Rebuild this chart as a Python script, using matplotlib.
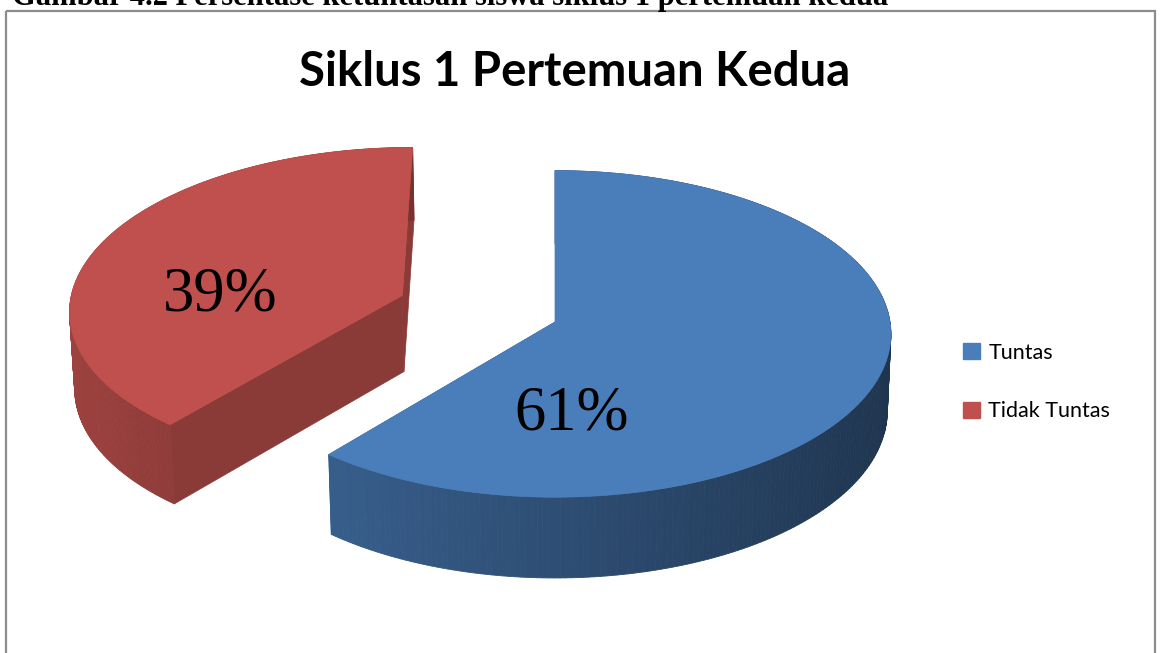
import numpy as np
import matplotlib
matplotlib.use('Agg')
import matplotlib.pyplot as plt
import matplotlib.colors as mcolors
from matplotlib.patches import Polygon, Patch, Rectangle

# data
categories = ['Tuntas', 'Tidak Tuntas']
values = [61, 39]
pct_labels = ['61%', '39%']
title = 'Siklus 1 Pertemuan Kedua'
caption = 'Gambar 4.2 Persentase ketuntasan siswa siklus 1 pertemuan kedua'

# style
colors = ['#4a7ebb', '#c0504d']
explode = [0.0, 0.49]
label_ang = [-85, 180]
label_r = 0.55

# fake 3d camera (pixel space)
tilt = np.radians(29)
sa, ca = np.sin(tilt), np.cos(tilt)
D = 12.0
F = 4020.0
cx, cy = 555.0, 322.0
h = 0.265


def proj(X, Z, Yh=0.0):
    yc = Z * sa + Yh * ca
    d = D + Z * ca - Yh * sa
    return cx + F * X / d, cy - F * yc / d


def shade(c, f):
    r, g, b = mcolors.to_rgb(c)
    return (r * f, g * f, b * f)


fig = plt.figure(figsize=(11.6, 6.53), dpi=100)
ax = fig.add_axes([0, 0, 1, 1])
ax.set_xlim(0, 1160)
ax.set_ylim(653, 0)
ax.axis('off')

# chart frame + cut caption line
ax.add_patch(Rectangle((6, 11), 1149, 660, fill=False, ec='#8c8c8c', lw=1.6))
ax.text(12, 5, caption, fontsize=22, fontweight='bold', family='Liberation Serif',
        ha='left', va='baseline', color='black')

fracs = np.array(values, dtype=float) / sum(values)
bounds = 90 - 360 * np.concatenate([[0], np.cumsum(fracs)])

for i in [1, 0]:
    t0, t1 = bounds[i], bounds[i + 1]
    mid = np.radians((t0 + t1) / 2)
    ox, oz = explode[i] * np.cos(mid), explode[i] * np.sin(mid)
    t = np.radians(np.linspace(t0, t1, 240))
    X = ox + np.cos(t)
    Z = oz + np.sin(t)
    top = np.column_stack(proj(X, Z, 0))
    bot = np.column_stack(proj(X, Z, -h))
    v_top = proj(ox, oz, 0)
    v_bot = proj(ox, oz, -h)

    # cut faces
    for k in [0, -1]:
        c = shade(colors[i], 0.72)
        ax.add_patch(Polygon([v_top, top[k], bot[k], v_bot], closed=True, fc=c, ec=c, lw=0.5))
    # outer wall
    for j in range(len(t) - 1):
        c = shade(colors[i], 0.62 - 0.2 * np.cos(t[j]))
        ax.add_patch(Polygon([top[j], top[j + 1], bot[j + 1], bot[j]], closed=True,
                             fc=c, ec=c, lw=0.6))
    # top face
    ax.add_patch(Polygon(np.vstack([v_top, top]), closed=True, fc=colors[i], ec=colors[i], lw=0.5))

    a = np.radians(label_ang[i])
    lx, ly = proj(ox + label_r * np.cos(a), oz + label_r * np.sin(a), 0)
    ax.text(lx, ly, pct_labels[i], fontsize=45, family='Liberation Serif',
            ha='center', va='center', color='black')

ax.text(575, 72, title, fontsize=34, fontweight='bold', family='Lato',
        ha='center', va='center', color='black')

handles = [Patch(fc=c, ec=c) for c in colors]
fig.legend(handles, categories, loc='center left', bbox_to_anchor=(944 / 1160, 1 - 382 / 653),
           frameon=False, prop={'family': 'Lato', 'size': 15.5},
           handlelength=0.75, handleheight=0.75, handletextpad=0.4, labelspacing=1.8)

fig.savefig('out.png', dpi=100)
